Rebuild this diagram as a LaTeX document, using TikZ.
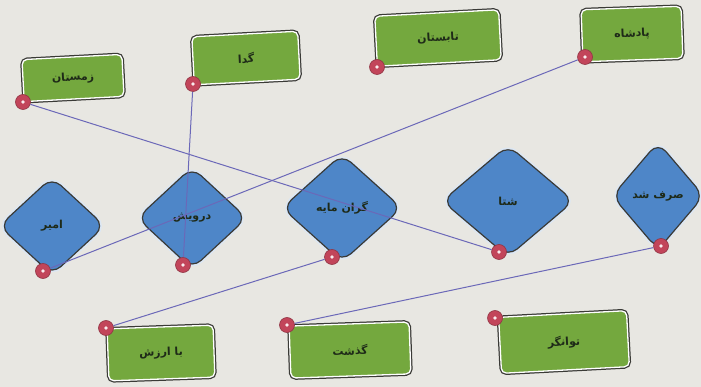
\documentclass[tikz,border=0pt]{standalone}
\usepackage{fontspec}
\newfontfamily\arabicfont[Script=Arabic]{DejaVu Sans}
\TeXXeTstate=1
\usetikzlibrary{shapes.geometric}
\definecolor{bg}{HTML}{E8E7E2}
\definecolor{gfill}{HTML}{74A83E}
\definecolor{bfill}{HTML}{4E86C8}
\definecolor{outl}{HTML}{3A3A36}
\definecolor{dotred}{HTML}{C2455A}
\definecolor{linkc}{HTML}{6B68B8}
\definecolor{txt}{HTML}{1E2A18}
\tikzset{
  lbl/.style={font=\arabicfont\bfseries\fontsize{11}{13}\selectfont, text=txt},
  gbox/.style={lbl, rectangle, rounded corners=5pt, fill=gfill, draw=white, line width=1.3pt,
    preaction={draw=outl, line width=3.8pt}, inner sep=0pt},
  bdia/.style={lbl, diamond, aspect=1, rounded corners=12pt, fill=bfill, draw=outl, line width=1.2pt,
    preaction={draw=white!80!bfill, line width=4.5pt}, inner sep=0pt},
  rdot/.style={circle, fill=dotred, draw=dotred!75!black, line width=0.6pt, minimum size=15pt, inner sep=0pt,
    path picture={\fill[white!90!dotred] (path picture bounding box.center) circle (1.9pt);}},
  link/.style={draw=linkc, line width=1pt}
}
\begin{document}
\begin{tikzpicture}[x=1pt,y=-1pt]
\fill[bg] (0,0) rectangle (701,387);
\useasboundingbox (0,0) rectangle (701,387);
% top row
\node[gbox, rotate=3, minimum width=100pt, minimum height=42pt] (zemestan) at (73,78) {\beginR زمستان\endR};
\node[gbox, rotate=3, minimum width=106pt, minimum height=48pt] (geda) at (246,58) {\beginR گدا\endR};
\node[gbox, rotate=3, minimum width=124pt, minimum height=50pt] (tabestan) at (438,38) {\beginR تابستان\endR};
\node[gbox, rotate=2, minimum width=100pt, minimum height=52pt] (padshah) at (632,34) {\beginR پادشاه\endR};
% middle row
\node[bdia, minimum width=106pt, minimum height=98pt] (amir) at (52,226) {\beginR امیر\endR};
\node[bdia, minimum width=110pt, minimum height=102pt] (darvish) at (192,218) {\beginR درویش\endR};
\node[bdia, minimum width=120pt, minimum height=108pt] (geranmaye) at (342,208) {\beginR گران مایه\endR};
\node[bdia, minimum width=132pt, minimum height=112pt] (shata) at (508,201) {\beginR شتا\endR};
\node[bdia, minimum width=92pt, minimum height=108pt] (sarfshod) at (658,196) {\beginR صرف شد\endR};
% bottom row
\node[gbox, rotate=2, minimum width=106pt, minimum height=52pt] (baarzesh) at (161,353) {\beginR با ارزش\endR};
\node[gbox, rotate=2, minimum width=120pt, minimum height=52pt] (gozasht) at (350,350) {\beginR گذشت\endR};
\node[gbox, rotate=3, minimum width=128pt, minimum height=56pt] (tavangar) at (564,342) {\beginR توانگر\endR};
% dots
\node[rdot] (dzem) at (23,102) {};
\node[rdot] (dged) at (193,84) {};
\node[rdot] (dtab) at (377,67) {};
\node[rdot] (dpad) at (585,57) {};
\node[rdot] (dami) at (43,271) {};
\node[rdot] (ddar) at (183,265) {};
\node[rdot] (dger) at (332,257) {};
\node[rdot] (dsha) at (499,252) {};
\node[rdot] (dsar) at (661,246) {};
\node[rdot] (dbaa) at (106,328) {};
\node[rdot] (dgoz) at (287,325) {};
\node[rdot] (dtav) at (495,318) {};
% links
\draw[link] (dzem) -- (dsha);
\draw[link] (dged) -- (ddar);
\draw[link] (dpad) -- (dami);
\draw[link] (dger) -- (dbaa);
\draw[link] (dsar) -- (dgoz);
\end{tikzpicture}
\end{document}
